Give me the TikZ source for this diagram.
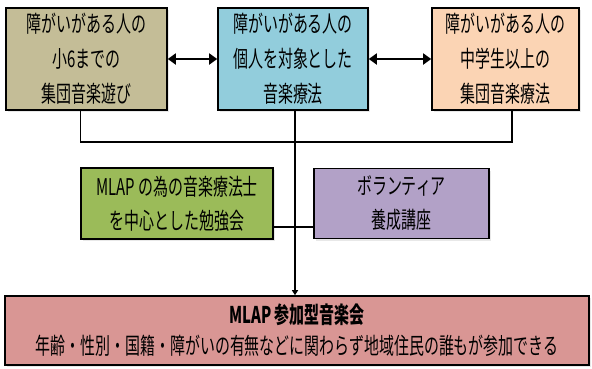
\documentclass[tikz,border=0pt]{standalone}
\usepackage{fontspec}
\setmainfont{Noto Sans CJK JP}[FakeStretch=0.65]
\usetikzlibrary{arrows.meta,shadows,calc}
\definecolor{tanc}{HTML}{C4BD97}
\definecolor{aquac}{HTML}{92CDDC}
\definecolor{peachc}{HTML}{FBD4B4}
\definecolor{greenc}{HTML}{9BBB59}
\definecolor{purplec}{HTML}{B2A1C7}
\definecolor{rosec}{HTML}{D99694}
\begin{document}
\begin{tikzpicture}[x=1pt,y=-1pt,
  box/.style={draw=black, line width=1.6pt, align=center, inner sep=0pt,
    font=\fontsize{23}{35}\selectfont,
    drop shadow={opacity=0.18, shadow xshift=2pt, shadow yshift=-2pt}},
  link/.style={line width=1.8pt, draw=black},
  dbl/.style={link, {Triangle[length=8pt,width=11pt]}-{Triangle[length=8pt,width=11pt]}}]
\useasboundingbox (0,0) rectangle (592,368);
\node[box, fill=tanc, minimum width=161pt, minimum height=102pt] (b1) at (86.5,59)
  {障がいがある人の\\小6までの\\集団音楽遊び};
\node[box, fill=aquac, minimum width=150pt, minimum height=102pt] (b2) at (293,59)
  {障がいがある人の\\個人を対象とした\\音楽療法};
\node[box, fill=peachc, minimum width=147pt, minimum height=102pt] (b3) at (505.5,59)
  {障がいがある人の\\中学生以上の\\集団音楽療法};
\node[box, fill=greenc, minimum width=192pt, minimum height=71pt,
  font=\fontsize{23}{34}\selectfont] (g) at (177,203.5)
  {MLAP の為の音楽療法士\\を中心とした勉強会};
\node[box, fill=purplec, minimum width=175pt, minimum height=70pt,
  font=\fontsize{23}{34}\selectfont] (p) at (401.5,203.5)
  {ボランティア\\養成講座};
\node[box, fill=rosec, minimum width=584pt, minimum height=69pt,
  font=\fontsize{23}{31}\selectfont] (m) at (297,330.5)
  {\textbf{MLAP 参加型音楽会}\\年齢・性別・国籍・障がいの有無などに関わらず地域住民の誰もが参加できる};
\draw[dbl] (b1.east) -- (b2.west);
\draw[dbl] (b2.east) -- (b3.west);
\coordinate (l1) at ([xshift=-6pt]b1.south);
\coordinate (l3) at ([xshift=6.5pt]b3.south);
\draw[link] (l1) -- ++(0,31) -| (l3);
\draw[link, -{Triangle[length=5pt,width=6pt]}] ([xshift=2pt]b2.south) -- ([xshift=2pt]b2.south |- m.north);
\coordinate (gm) at ([yshift=-23.5pt]g.east);
\draw[link] (gm) -- (gm -| p.west);
\end{tikzpicture}
\end{document}
